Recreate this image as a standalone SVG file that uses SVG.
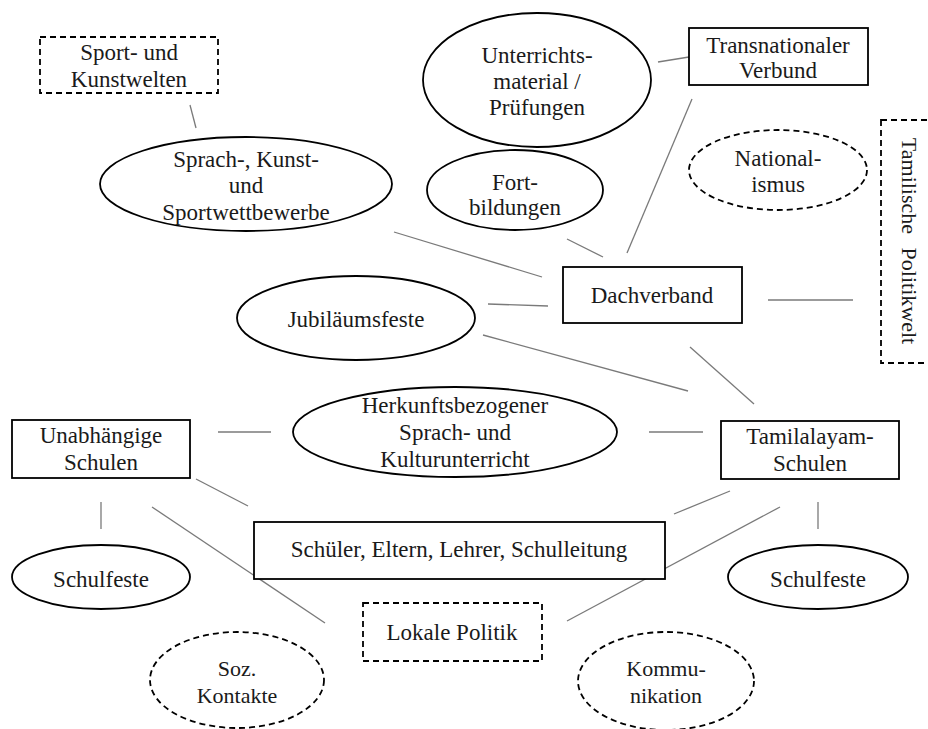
<svg xmlns="http://www.w3.org/2000/svg" width="928" height="729" viewBox="0 0 928 729">
<style>
.n{fill:#fff;stroke:#000;stroke-width:1.8}
.d{fill:#fff;stroke:#000;stroke-width:1.8;stroke-dasharray:6 4}
.c line{stroke:#7a7a7a;stroke-width:1.3}
text{font-family:"Liberation Serif","Times New Roman",serif;font-size:23px;fill:#1a1a1a;text-anchor:middle}
.s{font-size:22px}
</style>
<rect width="928" height="729" fill="#fff"/>
<g class="c" id="connectors">
<line x1="190" y1="105" x2="196" y2="128"/>
<line x1="658" y1="62" x2="689" y2="57"/>
<line x1="692" y1="99" x2="627" y2="253"/>
<line x1="567" y1="239" x2="603" y2="257"/>
<line x1="394" y1="232" x2="542" y2="277"/>
<line x1="488" y1="304" x2="548" y2="306"/>
<line x1="768" y1="300" x2="853" y2="300"/>
<line x1="483" y1="335" x2="688" y2="391"/>
<line x1="690" y1="347" x2="754" y2="404"/>
<line x1="218" y1="432" x2="271" y2="432"/>
<line x1="649" y1="432" x2="703" y2="432"/>
<line x1="196" y1="479" x2="248" y2="506"/>
<line x1="101" y1="502" x2="101" y2="529"/>
<line x1="152" y1="507" x2="325" y2="623"/>
<line x1="674" y1="514" x2="730" y2="491"/>
<line x1="780" y1="507" x2="567" y2="621"/>
<line x1="818" y1="502" x2="818" y2="529"/>
</g>
<g id="sportwelten"><rect class="d" x="40" y="37" width="178" height="56"/><text x="129" y="60">Sport- und</text><text x="129" y="87">Kunstwelten</text></g>
<g id="wettbewerbe"><ellipse class="n" cx="246" cy="184" rx="146" ry="47"/><text x="246" y="167">Sprach-, Kunst-</text><text x="246" y="193">und</text><text x="246" y="220">Sportwettbewerbe</text></g>
<g id="unterrichtsmaterial"><ellipse class="n" cx="537" cy="80" rx="114" ry="67"/><text x="537" y="63">Unterrichts-</text><text x="537" y="89">material /</text><text x="537" y="115">Prüfungen</text></g>
<g id="transnational"><rect class="n" x="689" y="28" width="179" height="57"/><text x="778" y="53">Transnationaler</text><text x="778" y="78">Verbund</text></g>
<g id="nationalismus"><ellipse class="d" cx="778" cy="170" rx="89" ry="40"/><text x="778" y="166">National-</text><text x="778" y="192">ismus</text></g>
<g id="politikwelt"><rect class="d" x="881" y="120" width="60" height="243"/><text class="s" x="910" y="249" transform="rotate(90 910 241)" word-spacing="8">Tamilische Politikwelt</text></g>
<g id="fortbildungen"><ellipse class="n" cx="515" cy="190" rx="88" ry="40"/><text x="515" y="190">Fort-</text><text x="515" y="215">bildungen</text></g>
<g id="dachverband"><rect class="n" x="563" y="267" width="179" height="56"/><text x="652" y="303">Dachverband</text></g>
<g id="jubilaeum"><ellipse class="n" cx="356" cy="318" rx="119" ry="42"/><text x="356" y="327">Jubiläumsfeste</text></g>
<g id="herkunft"><ellipse class="n" cx="455" cy="432" rx="162" ry="45"/><text x="455" y="413">Herkunftsbezogener</text><text x="455" y="440">Sprach- und</text><text x="455" y="467">Kulturunterricht</text></g>
<g id="unabhaengig"><rect class="n" x="12" y="420" width="178" height="58"/><text x="101" y="443">Unabhängige</text><text x="101" y="470">Schulen</text></g>
<g id="tamilalayam"><rect class="n" x="721" y="421" width="178" height="58"/><text x="810" y="444">Tamilalayam-</text><text x="810" y="471">Schulen</text></g>
<g id="schueler"><rect class="n" x="254" y="522" width="411" height="57"/><text x="459" y="557">Schüler, Eltern, Lehrer, Schulleitung</text></g>
<g id="schulfeste1"><ellipse class="n" cx="101" cy="577" rx="89" ry="32"/><text x="101" y="587">Schulfeste</text></g>
<g id="schulfeste2"><ellipse class="n" cx="818" cy="577" rx="90" ry="32"/><text x="818" y="587">Schulfeste</text></g>
<g id="lokalepolitik"><rect class="d" x="363" y="603" width="179" height="58"/><text x="452" y="640">Lokale Politik</text></g>
<g id="kontakte"><ellipse class="d" cx="237" cy="680" rx="87" ry="48"/><text class="s" x="237" y="676">Soz.</text><text class="s" x="237" y="703">Kontakte</text></g>
<g id="kommunikation"><ellipse class="d" cx="666" cy="681" rx="88" ry="49"/><text class="s" x="666" y="676">Kommu-</text><text class="s" x="666" y="703">nikation</text></g>
</svg>
